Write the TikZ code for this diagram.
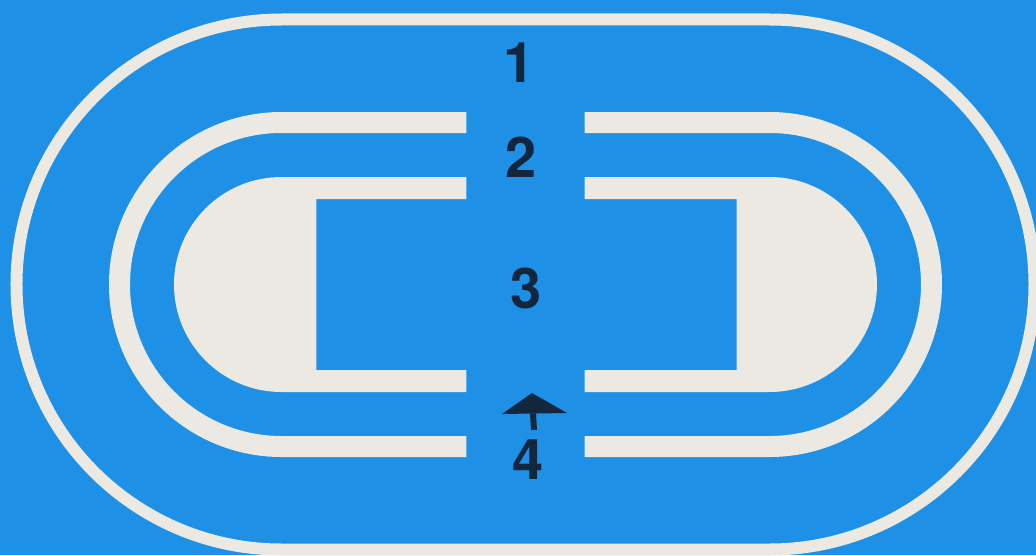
\documentclass[tikz,border=0pt]{standalone}
\usepackage{fontspec}
\setmainfont{TeX Gyre Heros}
\usepackage{tikz}
\usetikzlibrary{positioning,calc}
\definecolor{trackBlue}{HTML}{1E90E6}
\definecolor{trackWhite}{HTML}{ECE9E2}
\definecolor{trackInk}{HTML}{12263D}

\begin{document}
\begin{tikzpicture}[x=1pt,y=1pt,
    rim/.style={draw=trackWhite,line width=12pt},
    lane/.style={draw=trackWhite,line width=21pt},
    infield/.style={fill=trackWhite},
    digit/.style={text=trackInk,inner sep=0pt,
                  font=\fontsize{56}{60}\selectfont\bfseries}]
  \useasboundingbox (-525.5,-270.5) rectangle (510.5,284.5);
  \fill[trackBlue] (-525.5,-270.5) rectangle (510.5,284.5);

  % outer ring
  \draw[rim] (-244,265) -- (244,265) arc(90:-90:265) -- (-244,-265)
    arc(270:90:265) -- cycle;

  % middle ring, split at the centre
  \draw[lane] (-59,162) -- (-244,162) arc(90:270:162) -- (-59,-162);
  \draw[lane] (59,162) -- (244,162) arc(90:-90:162) -- (59,-162);

  % inner D shapes with their open boxes
  \fill[infield] (-59,107.5) -- (-244,107.5) arc(90:270:107.5) -- (-59,-107.5)
    -- (-59,-85.5) -- (-209,-85.5) -- (-209,85.5) -- (-59,85.5) -- cycle;
  \fill[infield] (59,107.5) -- (244,107.5) arc(90:-90:107.5) -- (59,-107.5)
    -- (59,-85.5) -- (211,-85.5) -- (211,85.5) -- (59,85.5) -- cycle;

  % numbers
  \node[digit] (n1) at (-6,221.5) {1};
  \node[digit] (n2) at (-4.5,127.5) {2};
  \node[digit] (n3) at (0.5,-3.5) {3};
  \node[digit] (n4) at (2.5,-175.5) {4};

  % direction marker above 4
  \fill[trackInk] (6.5,-108.5) -- (41.5,-128.5) -- (-23.5,-129.5) -- cycle;
  \draw[trackInk,line width=6pt] (7.5,-129) -- (8.5,-145.5);
\end{tikzpicture}
\end{document}
